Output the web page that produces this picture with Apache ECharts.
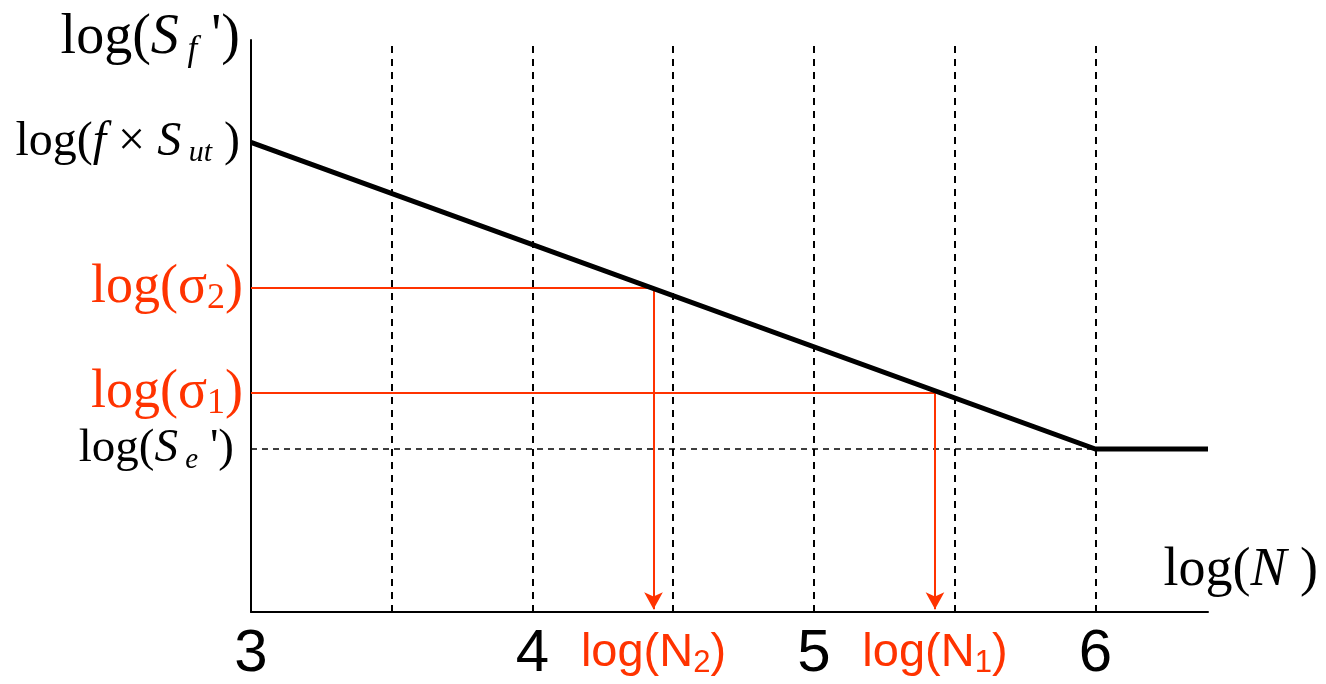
<!DOCTYPE html>
<html>
<head>
<meta charset="utf-8">
<script src="https://cdn.jsdelivr.net/npm/echarts@6/dist/echarts.min.js"></script>
<style>
html,body{margin:0;padding:0;background:#fff;}
#chart{width:1326px;height:684px;}
</style>
</head>
<body>
<div id="chart"></div>
<script>
// ---- data ----
const xTicks = [3, 4, 5, 6];
const gridLinesX = [3.5, 4, 4.5, 5, 5.5, 6];
const curveX = [3, 6, 6.4];
const curveY = [8.21, 2.85, 2.85];
const sigmaSubs = ['2', '1'];
const sigmaY = [5.67, 3.83];
const cyclesSubs = ['2', '1'];
const cyclesX = [4.43, 5.43];
const enduranceY = 2.85;
const enduranceEndX = 6;
const ultimateY = 8.21;
const arrowTipY = 0.05;

const RED = '#ff3300';
const SERIF = '"Liberation Serif", "Times New Roman", serif';
const SANS = '"Liberation Sans", Arial, sans-serif';

function serifRich(size, color) {
  return {
    n: { fontFamily: SERIF, fontSize: size, color: color, lineHeight: size + 4 },
    i: { fontFamily: SERIF, fontSize: size, fontStyle: 'italic', color: color, lineHeight: size + 4 },
    sub: { fontFamily: SERIF, fontSize: Math.round(size * 0.62), fontStyle: 'italic', color: color, lineHeight: Math.round(size * 0.35), verticalAlign: 'bottom' },
    subn: { fontFamily: SERIF, fontSize: Math.round(size * 0.66), color: color, lineHeight: Math.round(size * 0.35), verticalAlign: 'bottom' }
  };
}
function sansRich(size, color) {
  return {
    n: { fontFamily: SANS, fontSize: size, color: color, lineHeight: size + 4 },
    subn: { fontFamily: SANS, fontSize: Math.round(size * 0.66), color: color, lineHeight: Math.round(size * 0.3), verticalAlign: 'bottom' }
  };
}

const curve = curveX.map((x, k) => [x, curveY[k]]);

// left-side labels (at x = 3)
const leftLabels = [
  { value: [3, ultimateY], text: '{n|log(}{i|f}{n| × }{i|S}{sub| ut}{n| )}', rich: serifRich(48, '#000'), dist: 11 },
  { value: [3, sigmaY[0]], text: '{n|log(σ}{subn|' + sigmaSubs[0] + '}{n|)}', rich: serifRich(54, RED), dist: 8 },
  { value: [3, sigmaY[1]], text: '{n|log(σ}{subn|' + sigmaSubs[1] + '}{n|)}', rich: serifRich(54, RED), dist: 8 },
  { value: [3, enduranceY], text: "{n|log(}{i|S}{sub| e}{n| ')}", rich: serifRich(47, '#000'), dist: 17 }
];

// bottom red labels
const bottomLabels = cyclesX.map((x, k) => ({ value: [x, 0], text: '{n|log(N}{subn|' + cyclesSubs[k] + '}{n|)}' }));

const redLines = [];
sigmaY.forEach((y, k) => {
  redLines.push([{ coord: [3, y], symbol: 'none' }, { coord: [cyclesX[k], y], symbol: 'none' }]);
  redLines.push([{ coord: [cyclesX[k], y], symbol: 'none' }, { coord: [cyclesX[k], arrowTipY], symbol: 'arrow', symbolSize: [14, 17] }]);
});

const chart = echarts.init(document.getElementById('chart'));
chart.setOption({
  animation: false,
  backgroundColor: '#fff',
  grid: { left: 251, top: 40, width: 957, bottom: 69, containLabel: false },
  xAxis: {
    type: 'value', min: 3, max: 6.4, interval: 1,
    axisLine: { lineStyle: { color: '#000', width: 2 } },
    axisTick: { show: false },
    splitLine: { show: false },
    axisLabel: {
      fontFamily: SANS, fontSize: 60, color: '#000', margin: 12,
      formatter: v => (xTicks.includes(v) ? String(v) : '')
    },
    name: '{n|log(}{i|N}{n| )}',
    nameLocation: 'end',
    nameGap: 110,
    nameTextStyle: { align: 'right', verticalAlign: 'bottom', padding: [0, 0, 12, 0], rich: serifRich(54, '#000') }
  },
  yAxis: {
    type: 'value', min: 0, max: 10,
    axisLine: { show: true, lineStyle: { color: '#000', width: 2 } },
    axisTick: { show: false },
    splitLine: { show: false },
    axisLabel: { show: false },
    name: "{n|log(}{i|S}{sub| f}{n| ')}",
    nameLocation: 'end',
    nameGap: 2,
    nameTextStyle: { align: 'right', verticalAlign: 'middle', padding: [0, 11, 0, 0], rich: serifRich(56, '#000') }
  },
  series: [
    {
      type: 'line', data: [], silent: true,
      markLine: {
        silent: true, symbol: 'none', label: { show: false },
        lineStyle: { color: '#000', width: 2, type: [7, 6], opacity: 1 },
        data: gridLinesX.map(x => ({ xAxis: x }))
      }
    },
    {
      type: 'line', silent: true, symbol: 'none',
      data: [[3, enduranceY], [enduranceEndX, enduranceY]],
      lineStyle: { color: '#000', width: 1.7, type: [6, 5] }
    },
    {
      type: 'line', data: [], silent: true,
      markLine: {
        silent: true, label: { show: false },
        lineStyle: { color: RED, width: 2, type: 'solid', opacity: 1 },
        itemStyle: { color: RED },
        data: redLines
      }
    },
    {
      type: 'line', silent: true, symbol: 'none', z: 5,
      data: curve,
      lineStyle: { color: '#000', width: 5, cap: 'butt', join: 'miter' }
    },
    {
      type: 'scatter', silent: true, symbolSize: 0, itemStyle: { opacity: 1 },
      data: leftLabels.map(d => ({
        value: d.value,
        label: { show: true, position: 'left', distance: d.dist, formatter: d.text, rich: d.rich, align: 'right', opacity: 1, color: '#000' }
      }))
    },
    {
      type: 'scatter', silent: true, symbolSize: 0, itemStyle: { opacity: 1 },
      data: bottomLabels.map(d => ({
        value: d.value,
        label: { show: true, position: 'bottom', distance: 16, formatter: d.text, rich: sansRich(47, RED), opacity: 1, color: RED }
      }))
    }
  ]
});
</script>
</body>
</html>
